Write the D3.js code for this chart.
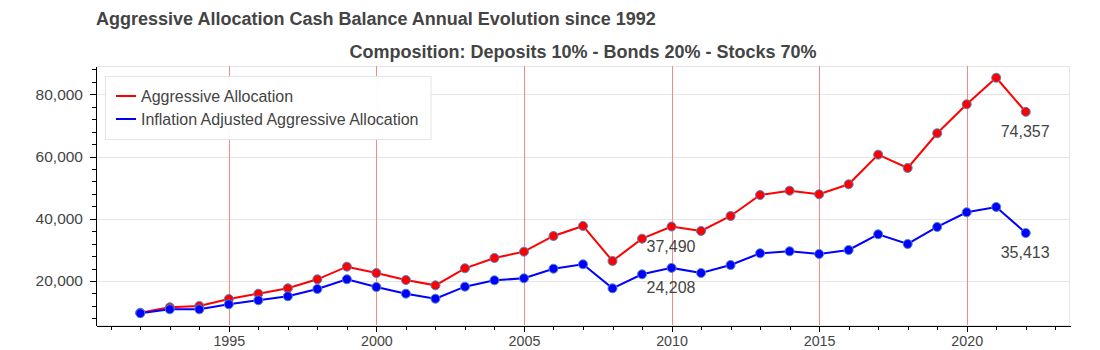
<!DOCTYPE html>
<html>
<head>
<meta charset="utf-8">
<script src="https://cdn.jsdelivr.net/npm/d3@7"></script>
<style>
  html, body { margin: 0; padding: 0; background: #fff; }
  svg { display: block; font-family: "Liberation Sans", Arial, Helvetica, sans-serif; }
  .axis path, .axis line { stroke: #000; shape-rendering: crispEdges; }
  .axis text { fill: #444; }
</style>
</head>
<body>
<svg id="chart" width="1100" height="350"></svg>
<script>
// Yearly balances, 1992–2022
const years = d3.range(1992, 2023);
const nominal = [
  9810, 11550, 11970, 14220, 15920, 17650, 20540, 24600, 22570, 20320,
  18600, 24080, 27390, 29420, 34460, 37680, 26430, 33600, 37490, 36070,
  40890, 47640, 49020, 47860, 51080, 60600, 56320, 67470, 76790, 85300,
  74357
];
const adjusted = [
  9640, 10900, 10900, 12510, 13800, 15080, 17430, 20540, 18070, 15920,
  14310, 18170, 20220, 20870, 23950, 25360, 17650, 22150, 24208, 22570,
  25140, 28900, 29550, 28680, 29960, 35000, 31890, 37360, 42080, 43780,
  35413
];
const seriesNames = ["Aggressive Allocation", "Inflation Adjusted Aggressive Allocation"];
const seriesColors = ["#ff0000", "#0000ff"];
const labelYears = [2010, 2022];
const yTickValues = [20000, 40000, 60000, 80000];
const xTickValues = [1995, 2000, 2005, 2010, 2015, 2020];

const title = "Aggressive Allocation Cash Balance Annual Evolution since 1992";
const subtitle = "Composition: Deposits 10% - Bonds 20% - Stocks 70%";

const svg = d3.select("#chart");
const frame = { left: 96, right: 1070, top: 66, bottom: 325 };

// Auto range with 5% padding on each side
function padded(lo, hi) {
  const span = hi - lo;
  return [lo - 0.05 * span, hi + 0.05 * span];
}
const allVals = nominal.concat(adjusted);
const x = d3.scaleLinear()
  .domain(padded(d3.min(years), d3.max(years)))
  .range([frame.left, frame.right]);
const y = d3.scaleLinear()
  .domain(padded(d3.min(allVals), d3.max(allVals)))
  .range([frame.bottom, frame.top]);

// Titles
svg.append("text")
  .attr("x", frame.left).attr("y", 25)
  .attr("font-size", 18).attr("font-weight", "bold").attr("fill", "#444")
  .text(title);
svg.append("text")
  .attr("x", (frame.left + frame.right) / 2).attr("y", 57.5)
  .attr("text-anchor", "middle")
  .attr("font-size", 18).attr("font-weight", "bold").attr("fill", "#444")
  .text(subtitle);

// Frame outline
svg.append("rect")
  .attr("x", frame.left + 0.5).attr("y", frame.top + 0.5)
  .attr("width", frame.right - frame.left - 1).attr("height", frame.bottom - frame.top)
  .attr("fill", "none").attr("stroke", "#e5e5e5");

// Grid lines
svg.append("g").selectAll("line").data(yTickValues).join("line")
  .attr("x1", frame.left).attr("x2", frame.right)
  .attr("y1", d => Math.round(y(d)) + 0.5).attr("y2", d => Math.round(y(d)) + 0.5)
  .attr("stroke", "#e5e5e5");
svg.append("g").selectAll("line").data(xTickValues).join("line")
  .attr("x1", d => Math.round(x(d)) + 0.5).attr("x2", d => Math.round(x(d)) + 0.5)
  .attr("y1", frame.top).attr("y2", frame.bottom)
  .attr("stroke", "#f28b84");

// Series
const series = [nominal, adjusted];
const line = d3.line().x((d, i) => x(years[i])).y(d => y(d));
series.forEach((vals, s) => {
  svg.append("path")
    .datum(vals)
    .attr("d", line)
    .attr("fill", "none")
    .attr("stroke", seriesColors[s])
    .attr("stroke-width", 2);
});
series.forEach((vals, s) => {
  svg.append("g").selectAll("circle").data(vals).join("circle")
    .attr("cx", (d, i) => x(years[i]))
    .attr("cy", d => y(d))
    .attr("r", 4.5)
    .attr("fill", seriesColors[s])
    .attr("stroke", "#4f86c6")
    .attr("stroke-width", 1);
});

// Value labels
const fmt = d3.format(",");
series.forEach(vals => {
  labelYears.forEach(yr => {
    const v = vals[years.indexOf(yr)];
    svg.append("text")
      .attr("x", x(yr) - 25)
      .attr("y", y(v) + 25)
      .attr("font-size", 16)
      .attr("fill", "#444")
      .text(fmt(v));
  });
});

// Axes
const yMinor = d3.range(4000, 90001, 4000).filter(v => v >= y.domain()[0] && v <= y.domain()[1]);
const xMinor = d3.range(1991, 2024);

const gy = svg.append("g").attr("class", "axis")
  .attr("transform", `translate(${frame.left - 0.5},0)`);
gy.append("g").call(d3.axisLeft(y).tickValues(yMinor).tickSize(4).tickFormat("").tickSizeOuter(0));
gy.append("g").call(d3.axisLeft(y).tickValues(yTickValues).tickSize(6).tickPadding(6.5)
    .tickFormat(fmt).tickSizeOuter(0))
  .call(g => g.select(".domain").remove())
  .call(g => g.selectAll("text").attr("font-size", 15.5).attr("font-family", null));

const gx = svg.append("g").attr("class", "axis")
  .attr("transform", `translate(0,${frame.bottom + 0.5})`);
gx.append("g").call(d3.axisBottom(x).tickValues(xMinor).tickSize(4).tickFormat("").tickSizeOuter(0));
gx.append("g").call(d3.axisBottom(x).tickValues(xTickValues).tickSize(6).tickPadding(4)
    .tickFormat(d3.format("d")).tickSizeOuter(0))
  .call(g => g.select(".domain").remove())
  .call(g => g.selectAll("text").attr("font-size", 14.3).attr("font-family", null));

// Legend
const legend = svg.append("g").attr("transform", `translate(${frame.left + 10},${frame.top + 10})`);
const legendW = 10 + 20 + 5 + 280.5 + 10;
legend.append("rect")
  .attr("x", -0.5).attr("y", 0.5)
  .attr("width", legendW).attr("height", 63)
  .attr("fill", "#fff").attr("fill-opacity", 0.95)
  .attr("stroke", "#e5e5e5");
seriesNames.forEach((name, i) => {
  const cy = 10 + i * 23 + 10;
  legend.append("line")
    .attr("x1", 10).attr("x2", 30).attr("y1", cy).attr("y2", cy)
    .attr("stroke", seriesColors[i]).attr("stroke-width", 2);
  legend.append("text")
    .attr("x", 35).attr("y", cy).attr("dy", "0.35em")
    .attr("font-size", 16).attr("fill", "#444")
    .text(name);
});
</script>
</body>
</html>
